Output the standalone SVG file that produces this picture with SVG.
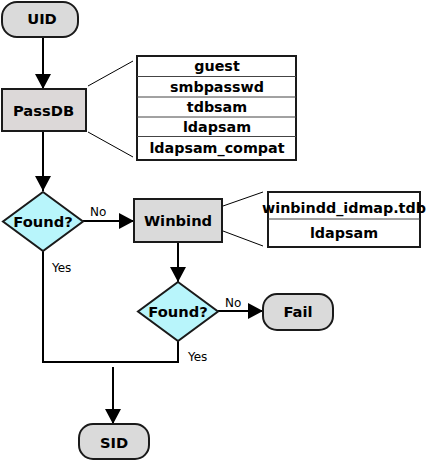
<svg xmlns="http://www.w3.org/2000/svg" width="427" height="461" viewBox="0 0 427 461">
<defs>
<style>
.term{fill:#dadada;stroke:#1a1a1a;stroke-width:2}
.proc{fill:#dadada;stroke:#1a1a1a;stroke-width:2}
.dec{fill:#b8f5fb;stroke:#1a1a1a;stroke-width:2}
.tbl{fill:#ffffff;stroke:#1a1a1a;stroke-width:2}
.sep{stroke:#444;stroke-width:1}
.t{font-family:"DejaVu Sans",sans-serif;font-size:14.7px;font-weight:bold;fill:#000;text-anchor:middle}
.tt{font-family:"DejaVu Sans",sans-serif;font-size:14.3px;font-weight:bold;fill:#000;text-anchor:middle}
.lbl{font-family:"DejaVu Sans",sans-serif;font-size:12px;fill:#000}
.edge{fill:none;stroke:#000;stroke-width:2}
.call{fill:none;stroke:#000;stroke-width:1}
</style>
<marker id="arr" viewBox="0 0 15 16" refX="15" refY="8" markerWidth="15" markerHeight="16" markerUnits="userSpaceOnUse" orient="auto">
<path d="M0,0 L15,8 L0,16 Z" fill="#000"/>
</marker>
</defs>
<g id="connectors">
<line class="edge" x1="43" y1="37" x2="43" y2="89" marker-end="url(#arr)"/>
<line class="edge" x1="43" y1="131" x2="43" y2="191" marker-end="url(#arr)"/>
<line class="edge" x1="83" y1="221" x2="134" y2="221" marker-end="url(#arr)"/>
<line class="edge" x1="178" y1="242" x2="178" y2="282" marker-end="url(#arr)"/>
<line class="edge" x1="218" y1="311" x2="263" y2="311" marker-end="url(#arr)"/>
<polyline class="edge" points="43,251 43,362 178,362 178,341"/>
<line class="edge" x1="113" y1="367" x2="113" y2="424" marker-end="url(#arr)"/>
<line class="call" x1="88" y1="86" x2="133" y2="61"/>
<line class="call" x1="88" y1="132" x2="133" y2="157"/>
<line class="call" x1="223" y1="206" x2="263" y2="192"/>
<line class="call" x1="223" y1="231" x2="263" y2="246"/>
<text class="lbl" x="90" y="216">No</text>
<text class="lbl" x="52" y="272">Yes</text>
<text class="lbl" x="225" y="307">No</text>
<text class="lbl" x="188" y="361">Yes</text>
</g>
<g id="uid">
<rect class="term" x="2" y="2" width="76" height="35" rx="15"/>
<text class="t" x="42" y="23.5">UID</text>
</g>
<g id="passdb">
<rect class="proc" x="2" y="89" width="84" height="42" style="fill:#dcd8d8"/>
<text class="t" x="43.5" y="115.5">PassDB</text>
</g>
<g id="passdb-backends">
<rect class="tbl" x="137" y="56" width="159" height="104"/>
<line class="sep" x1="137" y1="76.5" x2="296" y2="76.5"/>
<line class="sep" x1="137" y1="97" x2="296" y2="97"/>
<line class="sep" x1="137" y1="117" x2="296" y2="117"/>
<line class="sep" x1="137" y1="136.5" x2="296" y2="136.5"/>
<text class="tt" x="217" y="71">guest</text>
<text class="tt" x="217" y="91.5">smbpasswd</text>
<text class="tt" x="217" y="111.5">tdbsam</text>
<text class="tt" x="217" y="131.5">ldapsam</text>
<text class="tt" x="217" y="153">ldapsam_compat</text>
</g>
<g id="found1">
<polygon class="dec" points="43,192 83,221.5 43,251 3,221.5"/>
<text class="t" x="43" y="227">Found?</text>
</g>
<g id="winbind">
<rect class="proc" x="134" y="199" width="88" height="43"/>
<text class="t" x="178" y="225.5">Winbind</text>
</g>
<g id="winbind-backends">
<rect class="tbl" x="268" y="192" width="152" height="55"/>
<line class="sep" x1="268" y1="219" x2="420" y2="219"/>
<text class="tt" x="344" y="213">winbindd_idmap.tdb</text>
<text class="tt" x="344" y="237.5">ldapsam</text>
</g>
<g id="found2">
<polygon class="dec" points="178,282 218,311.5 178,341 138,311.5"/>
<text class="t" x="178" y="317">Found?</text>
</g>
<g id="fail">
<rect class="term" x="263" y="294" width="70" height="36" rx="14"/>
<text class="t" x="298" y="317">Fail</text>
</g>
<g id="sid">
<rect class="term" x="79" y="424" width="70" height="35" rx="14"/>
<text class="t" x="114" y="448">SID</text>
</g>
</svg>
